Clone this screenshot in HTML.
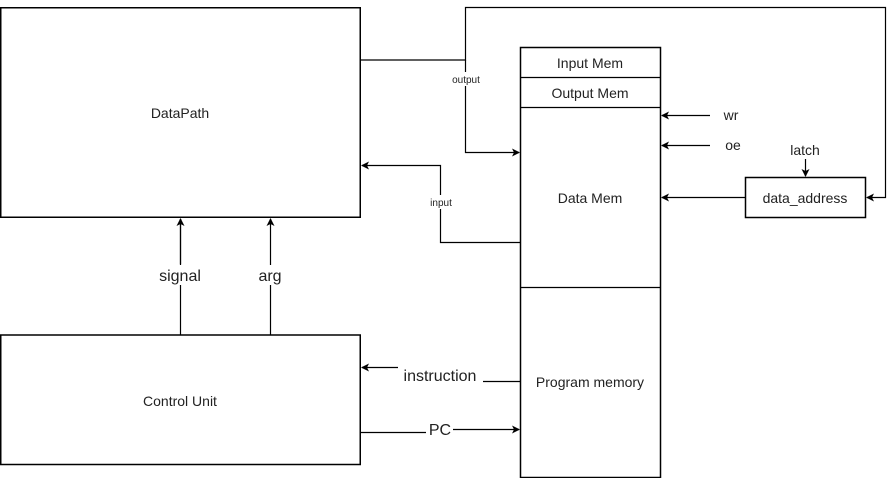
<!DOCTYPE html>
<html><head><meta charset="utf-8"><style>
html,body{margin:0;padding:0;background:#fff;}
svg{display:block;}
text{font-family:"Liberation Sans",Arial,sans-serif;fill:#222;}
</style></head><body>
<svg width="896" height="478" viewBox="0 0 896 478" xmlns="http://www.w3.org/2000/svg">
<defs>
<marker id="a" markerWidth="8" markerHeight="8" refX="7" refY="4" orient="auto" markerUnits="userSpaceOnUse">
<path d="M0,0 L8,4 L0,8 L2,4 Z" fill="#000"/></marker>
</defs>
<g fill="#fff" stroke="#000" stroke-width="1.5">
<rect x="0.75" y="7.75" width="359.5" height="209.5"/>
<rect x="0.75" y="335" width="359.5" height="129.5"/>
<rect x="520.5" y="47.5" width="140" height="430"/>
<rect x="745.5" y="177.5" width="120" height="40"/>
</g>
<g stroke="#000" stroke-width="1.2" fill="none">
<line x1="520" y1="77.5" x2="661" y2="77.5"/>
<line x1="520" y1="107.5" x2="661" y2="107.5"/>
<line x1="520" y1="287.5" x2="661" y2="287.5"/>
<path d="M361,60 H465.5 V7.5 H885.5 V197.5 H867" marker-end="url(#a)"/>
<path d="M465.5,60 V152.5 H519" marker-end="url(#a)"/>
<path d="M520,242.5 H440.5 V165.5 H362" marker-end="url(#a)"/>
<line x1="710" y1="115.5" x2="662" y2="115.5" marker-end="url(#a)"/>
<line x1="710" y1="145.5" x2="662" y2="145.5" marker-end="url(#a)"/>
<line x1="745" y1="197.5" x2="662" y2="197.5" marker-end="url(#a)"/>
<line x1="805.5" y1="159" x2="805.5" y2="176" marker-end="url(#a)"/>
<path d="M180.5,335 V264 M180.5,286 V219" />
<line x1="180.5" y1="264" x2="180.5" y2="219" marker-end="url(#a)"/>
<line x1="270.5" y1="335" x2="270.5" y2="219" marker-end="url(#a)"/>
<line x1="520" y1="381.5" x2="483" y2="381.5"/>
<line x1="398" y1="367.5" x2="362" y2="367.5" marker-end="url(#a)"/>
<line x1="361" y1="432.5" x2="426" y2="432.5"/>
<line x1="453" y1="429.5" x2="519" y2="429.5" marker-end="url(#a)"/>
</g>
<rect x="155" y="265" width="52" height="20" fill="#fff"/>
<rect x="255" y="265" width="32" height="20" fill="#fff"/>
<rect x="447" y="72" width="38" height="14" fill="#fff"/>
<rect x="425" y="195" width="32" height="14" fill="#fff"/>
<g font-size="14" text-anchor="middle">
<text x="180" y="118">DataPath</text>
<text x="180" y="406">Control Unit</text>
<text x="590" y="68">Input Mem</text>
<text x="590" y="98">Output Mem</text>
<text x="590" y="203">Data Mem</text>
<text x="590" y="387">Program memory</text>
<text x="805" y="203">data_address</text>
<text x="805" y="155">latch</text>
<text x="731" y="120">wr</text>
<text x="733" y="150">oe</text>
</g>
<g font-size="16" text-anchor="middle">
<text x="180" y="281">signal</text>
<text x="270" y="281">arg</text>
<text x="440" y="381">instruction</text>
<text x="440" y="435">PC</text>
</g>
<g font-size="10" text-anchor="middle">
<text x="466" y="83">output</text>
<text x="441" y="206">input</text>
</g>
</svg>
</body></html>
